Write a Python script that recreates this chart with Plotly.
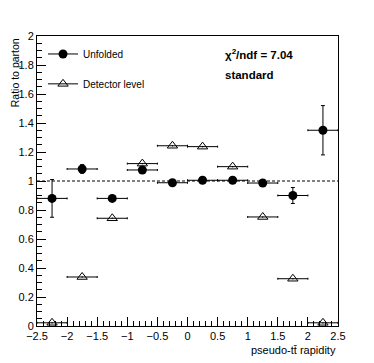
import plotly.graph_objects as go

# bin centres and half widths
bin_centres = [-2.25, -1.75, -1.25, -0.75, -0.25, 0.25, 0.75, 1.25, 1.75, 2.25]
bin_halfwidth = [0.25] * 10

# unfolded / parton ratio
unfolded = [0.88, 1.083, 0.88, 1.076, 0.988, 1.005, 1.005, 0.986, 0.90, 1.35]
unfolded_err = [0.13, 0.03, 0.015, 0.015, 0.012, 0.012, 0.012, 0.015, 0.055, 0.17]

# detector level / parton ratio
detector = [0.022, 0.338, 0.743, 1.12, 1.243, 1.237, 1.099, 0.752, 0.326, 0.022]
detector_err = [0.005, 0.005, 0.005, 0.005, 0.005, 0.005, 0.005, 0.005, 0.005, 0.005]

FONT = "Liberation Sans, Arial, sans-serif"

fig = go.Figure()

fig.add_trace(go.Scatter(
    x=bin_centres, y=detector, mode="markers", showlegend=False,
    marker=dict(symbol="triangle-up-open", size=9, color="black", line=dict(width=1)),
    error_x=dict(type="data", array=bin_halfwidth, color="black", thickness=1, width=1),
    error_y=dict(type="data", array=detector_err, color="black", thickness=1, width=0),
))
fig.add_trace(go.Scatter(
    x=bin_centres, y=unfolded, mode="markers", showlegend=False,
    marker=dict(symbol="circle", size=9, color="black"),
    error_x=dict(type="data", array=bin_halfwidth, color="black", thickness=1, width=1),
    error_y=dict(type="data", array=unfolded_err, color="black", thickness=1, width=2),
))

# legend-only entries (marker with a line through it, ROOT style)
fig.add_trace(go.Scatter(
    x=[None], y=[None], mode="lines+markers", name="Unfolded", legend="legend",
    line=dict(color="black", width=1),
    marker=dict(symbol="circle", size=9, color="black"),
))
fig.add_trace(go.Scatter(
    x=[None], y=[None], mode="lines+markers", name="Detector level", legend="legend2",
    line=dict(color="black", width=1),
    marker=dict(symbol="triangle-up-open", size=9, color="black", line=dict(width=1)),
))

# reference line at ratio 1
fig.add_shape(type="line", xref="paper", x0=0, x1=1, y0=1, y1=1,
              line=dict(color="black", width=1, dash="3px,2px"))

axis_common = dict(
    showline=True, linecolor="black", linewidth=1, mirror=True,
    ticks="inside", ticklen=9, tickcolor="black", tickwidth=1,
    showgrid=False, zeroline=False,
    tickfont=dict(family=FONT, size=11, color="black"),
)

fig.update_xaxes(range=[-2.5, 2.5], dtick=0.5, tick0=-2.5,
                 minor=dict(ticks="inside", dtick=0.1, ticklen=5, tickcolor="black"),
                 **axis_common)
fig.update_yaxes(range=[0, 2], dtick=0.2, tick0=0,
                 minor=dict(ticks="inside", dtick=0.05, ticklen=5, tickcolor="black"),
                 **axis_common)

legend_style = dict(
    bgcolor="rgba(0,0,0,0)", borderwidth=0,
    font=dict(family=FONT, size=10, color="black"),
    xanchor="left", yanchor="middle", itemwidth=30,
)

# page body has an 8px margin, so the figure is a little smaller than the window
fig.update_layout(
    width=366, height=355,
    margin=dict(l=29, r=36, t=28, b=37),
    plot_bgcolor="white", paper_bgcolor="white",
    legend=dict(x=0.02, y=0.938, **legend_style),
    legend2=dict(x=0.02, y=0.835, **legend_style),
    annotations=[
        dict(text="<b>χ<sup>2</sup>/ndf = 7.04</b>", xref="paper", yref="paper",
             x=0.618, y=0.938, xanchor="left", yanchor="middle", showarrow=False,
             font=dict(family=FONT, size=11.5, color="black")),
        dict(text="<b>standard</b>", xref="paper", yref="paper",
             x=0.618, y=0.866, xanchor="left", yanchor="middle", showarrow=False,
             font=dict(family=FONT, size=11.5, color="black")),
        dict(text="Ratio to parton", xref="paper", yref="paper",
             x=-0.074, y=1, xanchor="center", yanchor="top", textangle=-90,
             showarrow=False, font=dict(family=FONT, size=10.5, color="black")),
        dict(text="pseudo-tt\u0304 rapidity", xref="paper", yref="paper",
             x=1, y=-0.083, xanchor="right", yanchor="middle", showarrow=False,
             font=dict(family=FONT, size=11, color="black")),
    ],
)

fig.write_html("out.html")
